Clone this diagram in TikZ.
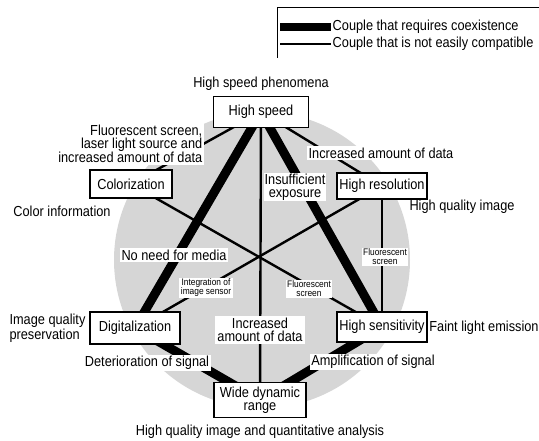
\documentclass[tikz,border=0pt]{standalone}
\usepackage{fontspec}
\setmainfont{Liberation Sans}[FakeStretch=0.88]
\usetikzlibrary{positioning}
\pgfdeclarelayer{shade}
\pgfdeclarelayer{links}
\pgfsetlayers{shade,links,main}

\begin{document}
\begin{tikzpicture}
[x=1pt, y=-1pt,
font=\fontsize{14.5}{13}\selectfont,
block/.style ={rectangle, draw, line width=1.2pt, fill=white,
align=center, inner sep=2pt},
lbl/.style ={fill=white, inner sep=1.5pt, align=center},
tiny/.style ={lbl, font=\fontsize{9.5}{9}\selectfont},
bond/.style ={line width=9pt},
clash/.style ={line width=2.4pt}]
\useasboundingbox (0,0) rectangle (539,441);
% legend
\draw[line width=1pt] (277,58) -- (277,8) -- (539,8);
\node[anchor=west, inner sep=1.5pt] (k1t) at (331,27) {Couple that requires coexistence};
\node[anchor=west, inner sep=1.5pt] (k2t) at (331,44) {Couple that is not easily compatible};
\coordinate (k1) at (280,27);
\coordinate (k2) at (280,44);
\draw[line width=8pt] (k1) -- (k1t.west);
\draw[clash] (k2) -- (k2t.west);
% boxes
\node[block, minimum width=95pt, minimum height=31pt] (hs) at (261,112) {High speed};
\node[block, minimum width=82pt, minimum height=28pt] (col) at (131,184) {Colorization};
\node[block, minimum width=90pt, minimum height=26pt] (hres) at (382,186) {High resolution};
\node[block, minimum width=90pt, minimum height=32pt] (dig) at (135,328) {Digitalization};
\node[block, minimum width=90pt, minimum height=30pt] (hsen) at (382,327) {High sensitivity};
\node[block, minimum width=92pt, minimum height=35pt] (wdr) at (260,400) {Wide dynamic\\range};
% labels
\node[above=2pt of hs] (phen) {High speed phenomena};
\node[lbl, align=right, anchor=east] (fls) at (204,144) {Fluorescent screen,\\laser light source and\\increased amount of data};
\node (cinf) at (62,211) {Color information};
\node[lbl] (iad1) at (381,153) {Increased amount of data};
\node (hqi) at (462,207) {High quality image};
\node[lbl] (nnm) at (174,255) {No need for media};
\node[lbl, inner sep=1pt] (ins) at (295,187) {Insufficient\\exposure};
\node[tiny] (integ) at (206,288) {Integration of\\image sensor};
\node[tiny] (fs1) at (309,289) {Fluorescent\\screen};
\node[tiny] (fs2) at (385,257) {Fluorescent\\screen};
\node[align=left, anchor=west] (iqp) at (6,328) {Image quality\\preservation};
\node[lbl] (det) at (147,363) {Deterioration of signal};
\node[lbl, inner sep=2.5pt] (iad2) at (260,330) {Increased\\amount of data};
\node[lbl] (amp) at (373,362) {Amplification of signal};
\node (fle) at (484,328) {Faint light emission};
\node (hqa) at (260,432) {High quality image and quantitative analysis};
% background and links
\begin{pgfonlayer}{shade}
\fill[black!16] (262,260) circle[radius=148pt];
\end{pgfonlayer}
\begin{pgfonlayer}{links}
\draw[bond] (hs.center) -- (dig.center);
\draw[bond] (hs.center) -- (hsen.center);
\draw[bond] (dig.center) -- (wdr.center);
\draw[bond] (hsen.center) -- (wdr.center);
\draw[clash] (hs.center) -- (wdr.center);
\draw[clash] (hs.center) -- (col.center);
\draw[clash] (hs.center) -- (hres.center);
\draw[clash] (col.center) -- (hsen.center);
\draw[clash] (hres.center) -- (dig.center);
\draw[clash] (hres.center) -- (hsen.center);
\end{pgfonlayer}
\end{tikzpicture}
\end{document}
